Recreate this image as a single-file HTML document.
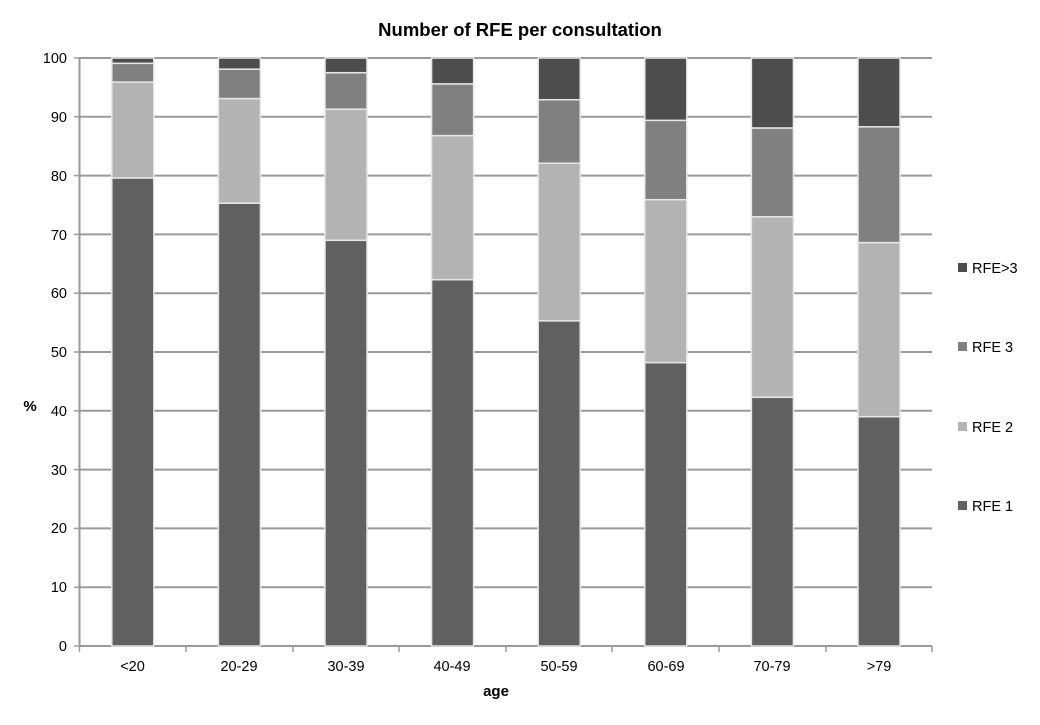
<!DOCTYPE html>
<html><head><style>body{margin:0;background:#fff}</style></head><body>
<svg width="1040" height="720" xmlns="http://www.w3.org/2000/svg" font-family="Liberation Sans, Arial, sans-serif">
<rect width="1040" height="720" fill="#fff"/>
<text x="520" y="36" text-anchor="middle" font-size="18.5" font-weight="bold" fill="#000">Number of RFE per consultation</text>
<g stroke="#9a9a9a" stroke-width="2">
<line x1="79" y1="646" x2="932" y2="646"/>
<line x1="79" y1="587.2" x2="932" y2="587.2"/>
<line x1="79" y1="528.4" x2="932" y2="528.4"/>
<line x1="79" y1="469.6" x2="932" y2="469.6"/>
<line x1="79" y1="410.8" x2="932" y2="410.8"/>
<line x1="79" y1="352" x2="932" y2="352"/>
<line x1="79" y1="293.2" x2="932" y2="293.2"/>
<line x1="79" y1="234.4" x2="932" y2="234.4"/>
<line x1="79" y1="175.6" x2="932" y2="175.6"/>
<line x1="79" y1="116.8" x2="932" y2="116.8"/>
<line x1="79" y1="58" x2="932" y2="58"/>
<line x1="79.5" y1="58" x2="79.5" y2="646"/>
</g>
<g stroke="#9a9a9a" stroke-width="1.5">
<line x1="74" y1="646" x2="79" y2="646"/><line x1="74" y1="587.2" x2="79" y2="587.2"/><line x1="74" y1="528.4" x2="79" y2="528.4"/><line x1="74" y1="469.6" x2="79" y2="469.6"/><line x1="74" y1="410.8" x2="79" y2="410.8"/><line x1="74" y1="352" x2="79" y2="352"/><line x1="74" y1="293.2" x2="79" y2="293.2"/><line x1="74" y1="234.4" x2="79" y2="234.4"/><line x1="74" y1="175.6" x2="79" y2="175.6"/><line x1="74" y1="116.8" x2="79" y2="116.8"/><line x1="74" y1="58" x2="79" y2="58"/>
<line x1="79.5" y1="646" x2="79.5" y2="652"/><line x1="186" y1="646" x2="186" y2="652"/><line x1="293" y1="646" x2="293" y2="652"/><line x1="399" y1="646" x2="399" y2="652"/><line x1="506" y1="646" x2="506" y2="652"/><line x1="612" y1="646" x2="612" y2="652"/><line x1="719" y1="646" x2="719" y2="652"/><line x1="826" y1="646" x2="826" y2="652"/><line x1="932" y1="646" x2="932" y2="652"/>
</g>
<g font-size="14.5" fill="#000" text-anchor="end">
<text x="67" y="651">0</text><text x="67" y="592">10</text><text x="67" y="533">20</text><text x="67" y="475">30</text><text x="67" y="416">40</text><text x="67" y="357">50</text><text x="67" y="298">60</text><text x="67" y="240">70</text><text x="67" y="181">80</text><text x="67" y="122">90</text><text x="67" y="63">100</text>
</g>
<text x="30" y="411" font-size="15" font-weight="bold" text-anchor="middle">%</text>
<g font-size="14.5" text-anchor="middle">
<text x="132.5" y="671">&lt;20</text><text x="239" y="671">20-29</text><text x="346" y="671">30-39</text><text x="452" y="671">40-49</text><text x="559" y="671">50-59</text><text x="666" y="671">60-69</text><text x="772" y="671">70-79</text><text x="879" y="671">&gt;79</text>
</g>
<text x="496" y="696" font-size="15" font-weight="bold" text-anchor="middle">age</text>
<g id="bars" stroke="#e6e6e6" stroke-width="1.5"></g>
<g font-size="14.5">
<rect x="958" y="263" width="9" height="9" fill="#4d4d4d"/><text x="972" y="273">RFE&gt;3</text>
<rect x="958" y="342" width="9" height="9" fill="#808080"/><text x="972" y="352">RFE 3</text>
<rect x="958" y="422" width="9" height="9" fill="#b3b3b3"/><text x="972" y="432">RFE 2</text>
<rect x="958" y="501" width="9" height="9" fill="#606060"/><text x="972" y="511">RFE 1</text>
</g>
</svg>
<script>
var d=[[79.6,95.9,99.1],[75.3,93.1,98.1],[69.0,91.3,97.5],[62.3,86.8,95.6],[55.3,82.1,92.9],[48.2,75.9,89.4],[42.3,73.0,88.1],[39.0,68.6,88.3]];
var c=["#606060","#b3b3b3","#808080","#4d4d4d"];var g=document.getElementById("bars");var ns="http://www.w3.org/2000/svg";
function y(v){return 646-v*5.88;}
d.forEach(function(r,i){var cx=79.5+106.6*(i+0.5);var v=[0].concat(r).concat([100]);
for(var k=0;k<4;k++){var e=document.createElementNS(ns,"rect");e.setAttribute("x",cx-21);e.setAttribute("width",42);
e.setAttribute("y",y(v[k+1]));e.setAttribute("height",y(v[k])-y(v[k+1]));e.setAttribute("fill",c[k]);g.appendChild(e);}});
</script>
</body></html>
